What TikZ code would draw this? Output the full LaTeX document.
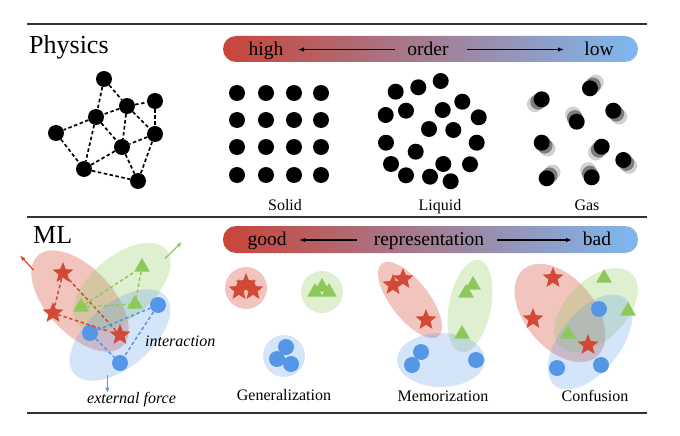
\documentclass[tikz,border=0pt]{standalone}
\usepackage{fontspec}
\setmainfont{Liberation Serif}
\usetikzlibrary{shapes.geometric,arrows.meta}
\definecolor{cred}{HTML}{D24A36}
\definecolor{cgreen}{HTML}{8DC85B}
\definecolor{cblue}{HTML}{5596E6}
\definecolor{barL}{HTML}{C9453A}
\definecolor{barR}{HTML}{7DB8F0}
\definecolor{rulec}{HTML}{333333}
\begin{document}
\begin{tikzpicture}[x=1pt,y=-1pt,
  hrule/.style={line width=1.6pt, draw=rulec},
  bdot/.style={circle, fill=black, minimum size=16pt, inner sep=0pt},
  netedge/.style={dash pattern=on 3.5pt off 2.5pt, line width=1.7pt},
  rstar/.style={star, star points=5, star point ratio=2.3, fill=cred, minimum size=22pt, inner sep=0pt},
  gtri/.style={regular polygon, regular polygon sides=3, fill=cgreen, minimum size=18pt, inner sep=0pt},
  bcirc/.style={circle, fill=cblue, minimum size=16pt, inner sep=0pt},
  rblob/.style={ellipse, fill=cred, fill opacity=0.32, inner sep=0pt},
  gblob/.style={ellipse, fill=cgreen, fill opacity=0.28, inner sep=0pt},
  bblob/.style={ellipse, fill=cblue, fill opacity=0.25, inner sep=0pt},
  bar/.style={rounded corners=13pt, left color=barL, right color=barR, minimum width=415pt, inner sep=0pt},
  bartext/.style={font=\fontsize{19.5}{20}\selectfont, anchor=base, inner sep=0pt},
  title/.style={font=\fontsize{26}{28}\selectfont, anchor=base west, inner sep=0pt},
  lab/.style={font=\fontsize{16}{18}\selectfont, anchor=base, inner sep=0pt},
  ilab/.style={font=\fontsize{16}{18}\selectfont\itshape, anchor=base west, inner sep=0pt},
  bararrow/.style={-{Latex[length=6pt,width=4.5pt]}, line width=1.1pt},
  rdash/.style={draw=cred, dash pattern=on 3.5pt off 2.5pt, line width=1.5pt},
  gdash/.style={draw=cgreen, dash pattern=on 3.5pt off 2.5pt, line width=1.5pt},
  bdash/.style={draw=cblue, dash pattern=on 3.5pt off 2.5pt, line width=1.5pt},
  farrow/.style={-{Latex[length=5.5pt,width=4.5pt]}, line width=1.2pt}
]
\useasboundingbox (0,0) rectangle (680,436);

% rules
\coordinate (r1a) at (27,24); \coordinate (r1b) at (647,24);
\coordinate (r2a) at (27,217); \coordinate (r2b) at (647,217);
\coordinate (r3a) at (27,413); \coordinate (r3b) at (647,413);
\draw[hrule] (r1a) -- (r1b);
\draw[hrule] (r2a) -- (r2b);
\draw[hrule] (r3a) -- (r3b);

% ===== Physics =====
\node[title] (phys) at (29,54) {Physics};
\node[bar, minimum height=26pt] (pbar) at (430.5,49) {};
\node[bartext] (phigh) at (266,55.5) {high};
\node[bartext] (porder) at (428,55.5) {order};
\node[bartext] (plow) at (599,55.5) {low};
\coordinate (pa1) at (395,49.5); \coordinate (pa2) at (298,49.5);
\coordinate (pa3) at (467,49.5); \coordinate (pa4) at (564,49.5);
\draw[bararrow] (pa1) -- (pa2);
\draw[bararrow] (pa3) -- (pa4);

% network
\node[bdot] (n1) at (104,79) {};
\node[bdot] (n2) at (127,106) {};
\node[bdot] (n3) at (155,101) {};
\node[bdot] (n4) at (96,117) {};
\node[bdot] (n5) at (56,133) {};
\node[bdot] (n6) at (155,134) {};
\node[bdot] (n7) at (122,147) {};
\node[bdot] (n8) at (84,169) {};
\node[bdot] (n9) at (138,181) {};
\foreach \a/\b in {n1/n2,n1/n4,n2/n3,n2/n4,n2/n7,n2/n6,n3/n6,n4/n5,n4/n7,n4/n8,n5/n8,n6/n7,n6/n9,n7/n8,n7/n9,n8/n9}
  \draw[netedge] (\a) -- (\b);

% solid
\foreach \x in {237,266,294,321}
  \foreach \y in {93,120,147,175}
    \fill (\x,\y) circle (8);
\node[lab] (lsolid) at (285,210) {Solid};

% liquid
\foreach \x/\y in {395.7/91.7, 418.3/87.3, 440.7/81, 462.3/101.7, 385.7/115, 406/110.7, 442.7/110, 478.7/117.3, 429/129, 453.3/130, 386/142.7, 415.7/151.7, 476.7/142.7, 391/164, 406/175.3, 430/176.7, 443.3/164, 450.7/181.3, 470/164.3}
  \fill (\x,\y) circle (8);
\node[lab] (lliquid) at (440,210) {Liquid};

% gas
\foreach \x/\y/\dx/\dy in {541.7/99.3/-3.4/2.4, 590/88.3/2.9/-2.9, 613.3/110.7/2.9/2.9, 576.7/121.7/-1.8/-3.6, 541.7/142.7/2.9/2.9, 601.7/146.7/-2.9/2.9, 623.3/160/2.9/2.9, 546.7/178.3/2.9/-2.9, 591.7/177.3/-1.8/-3.6}{
  \fill[black, opacity=0.18] ({\x+2*\dx},{\y+2*\dy}) circle (8);
  \fill[black, opacity=0.4] ({\x+\dx},{\y+\dy}) circle (8);
  \fill (\x,\y) circle (8);
}
\node[lab] (lgas) at (587,210) {Gas};

% ===== ML =====
\node[title] (ml) at (33,243) {ML};
\node[bar, minimum height=27pt] (mbar) at (430.5,239.5) {};
\node[bartext] (mgood) at (267,245) {good};
\node[bartext] (mrep) at (429,245) {representation};
\node[bartext] (mbad) at (597,245) {bad};
\coordinate (ma1) at (357,240); \coordinate (ma2) at (299,240);
\coordinate (ma3) at (497,240); \coordinate (ma4) at (572,240);
\draw[bararrow] (ma1) -- (ma2);
\draw[bararrow] (ma3) -- (ma4);

% left interaction diagram
\node[rblob, minimum width=124pt, minimum height=66pt, rotate=-47] (e1) at (80,301) {};
\node[gblob, minimum width=116pt, minimum height=62pt, rotate=40] (e2) at (122,287) {};
\node[bblob, minimum width=120pt, minimum height=64pt, rotate=40] (e3) at (120,335) {};

\node[rstar] (s1) at (63,273) {};
\node[rstar] (s2) at (53,313) {};
\node[rstar] (s3) at (120,335) {};
\node[gtri] (t1) at (142,267) {};
\node[gtri] (t2) at (81,307) {};
\node[gtri] (t3) at (135,304) {};
\node[bcirc] (c1) at (158,305) {};
\node[bcirc] (c2) at (90,333) {};
\node[bcirc] (c3) at (120,363) {};

\draw[rdash] (s1) -- (s2);
\draw[rdash] (s1) -- (s3);
\draw[rdash] (s2) -- (s3);
\draw[gdash] (t2) -- (t1);
\draw[gdash] (t1) -- (t3);
\draw[gdash] (t2) -- (t3);
\draw[bdash] (c2) -- (c1);
\draw[bdash] (c1) -- (c3);
\draw[bdash] (c2) -- (c3);

\coordinate (fr1) at (33.5,270); \coordinate (fr2) at (20,255.5);
\coordinate (fg1) at (165,258.5); \coordinate (fg2) at (182,242);
\coordinate (fb1) at (107.3,375); \coordinate (fb2) at (107.3,393);
\draw[farrow, cred] (fr1) -- (fr2);
\draw[farrow, cgreen] (fg1) -- (fg2);
\draw[farrow, cblue] (fb1) -- (fb2);

\node[ilab] (linter) at (145,346.5) {interaction};
\node[ilab] (lext) at (87,403.5) {external force};

% Generalization
\node[circle, fill=cred, fill opacity=0.32, minimum size=42pt, inner sep=0pt] (g1) at (246,288) {};
\node[circle, fill=cgreen, fill opacity=0.28, minimum size=42pt, inner sep=0pt] (g2) at (322,292) {};
\node[circle, fill=cblue, fill opacity=0.25, minimum size=42pt, inner sep=0pt] (g3) at (284,356) {};
\node[rstar] (gs1) at (246,284) {};
\node[rstar] (gs2) at (239,290) {};
\node[rstar] (gs3) at (253,290) {};
\node[gtri] (gt1) at (322,287) {};
\node[gtri] (gt2) at (315,292) {};
\node[gtri] (gt3) at (329,292) {};
\node[bcirc] (gc1) at (286,347) {};
\node[bcirc] (gc2) at (277,359) {};
\node[bcirc] (gc3) at (291,364) {};
\node[lab] (lgen) at (284,400) {Generalization};

% Memorization
\node[rblob, minimum width=92pt, minimum height=38pt, rotate=-52] (me1) at (410,300) {};
\node[gblob, minimum width=94pt, minimum height=42pt, rotate=79] (me2) at (470,306) {};
\node[bblob, minimum width=88pt, minimum height=54pt] (me3) at (441,360) {};
\node[rstar] (ms1) at (393,285) {};
\node[rstar] (ms2) at (403,279) {};
\node[rstar] (ms3) at (426,320) {};
\node[gtri] (mt1) at (466,293) {};
\node[gtri] (mt2) at (473,285) {};
\node[gtri] (mt3) at (462,334) {};
\node[bcirc] (mc1) at (421,352) {};
\node[bcirc] (mc2) at (412,365) {};
\node[bcirc] (mc3) at (476,360) {};
\node[lab] (lmem) at (443,401) {Memorization};

% Confusion
\node[rblob, minimum width=114pt, minimum height=70pt, rotate=-50] (ce1) at (560,313) {};
\node[gblob, minimum width=102pt, minimum height=60pt, rotate=45] (ce2) at (596,310) {};
\node[bblob, minimum width=112pt, minimum height=60pt, rotate=51] (ce3) at (590,342) {};
\node[rstar] (cs1) at (553,278) {};
\node[rstar] (cs2) at (533,319) {};
\node[rstar] (cs3) at (588,345) {};
\node[gtri] (ct1) at (604,278) {};
\node[gtri] (ct2) at (628,311) {};
\node[gtri] (ct3) at (568,334) {};
\node[bcirc] (cc1) at (599,309) {};
\node[bcirc] (cc2) at (557,368) {};
\node[bcirc] (cc3) at (601,365) {};
\node[lab] (lconf) at (595,401) {Confusion};
\end{tikzpicture}
\end{document}
